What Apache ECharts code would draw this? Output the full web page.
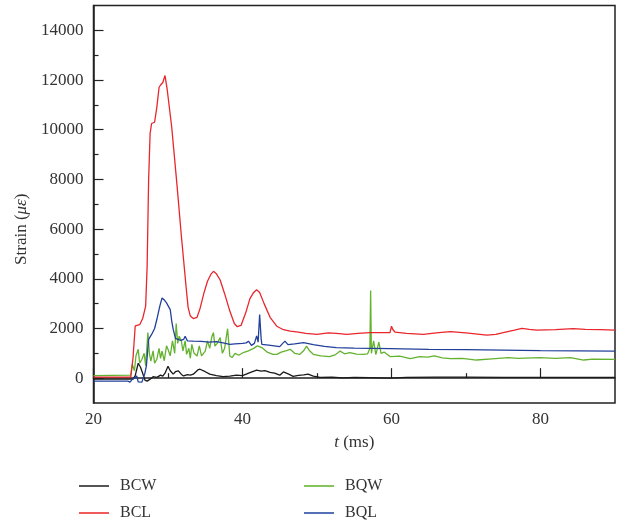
<!DOCTYPE html>
<html>
<head>
<meta charset="utf-8">
<script src="https://cdn.jsdelivr.net/npm/echarts@6/dist/echarts.min.js"></script>
<style>
html, body { margin: 0; padding: 0; background: #fff; }
#main { width: 617px; height: 521px; }
</style>
</head>
<body>
<div id="main"></div>
<script>
// strain records, [t (ms), strain (microstrain)]
var bcw = [[20,-40],[25.3,-40],[25.6,100],[26.0,600],[26.3,450],[26.6,200],[26.9,-80],[27.2,-120],[27.6,-40],[28.0,60],[28.5,30],[29.0,120],[29.3,80],[29.6,200],[30.0,480],[30.3,300],[30.7,160],[31.0,260],[31.4,290],[31.8,150],[32.1,90],[32.6,140],[33.0,120],[33.4,160],[34.0,330],[34.3,360],[35.0,260],[35.6,160],[36.5,100],[37.4,60],[38.3,80],[39.2,120],[40.0,100],[41.0,220],[41.9,320],[42.5,280],[43.0,300],[43.7,230],[44.3,200],[45.0,120],[45.5,250],[46.2,160],[46.8,70],[47.5,110],[48.2,130],[48.8,160],[49.5,80],[50.4,30],[52,40],[53.5,10],[55,30],[57,20],[59.8,0],[62,30],[66,40],[70,40],[75,30],[80,30],[85,30],[90,30]];

var bcl = [[20,40],[25.0,40],[25.3,800],[25.6,2100],[26.2,2150],[26.6,2400],[27.0,2900],[27.2,4500],[27.4,8000],[27.6,9850],[27.8,10250],[28.2,10300],[28.5,10900],[28.8,11700],[29.0,11800],[29.3,11900],[29.6,12180],[29.9,11600],[30.5,10100],[31.2,7800],[31.8,5700],[32.5,3450],[32.7,2850],[33.0,2500],[33.4,2400],[33.9,2450],[34.3,2800],[34.8,3400],[35.3,3900],[35.8,4200],[36.1,4300],[36.5,4200],[37.0,3950],[37.6,3400],[38.3,2700],[38.9,2200],[39.3,2070],[39.8,2120],[40.4,2600],[41.0,3200],[41.5,3450],[41.9,3560],[42.3,3450],[42.9,3000],[43.7,2450],[44.6,2090],[45.5,1950],[46.4,1890],[47.5,1850],[48.5,1800],[50,1760],[51.5,1820],[52.6,1800],[54,1760],[55.5,1800],[57.1,1830],[59.8,1830],[60.0,2090],[60.2,1950],[60.5,1850],[62,1800],[64.3,1760],[66,1820],[67.9,1870],[70,1820],[72.8,1730],[74,1760],[75,1830],[76.5,1930],[77.5,2000],[78.5,1960],[79.5,1930],[82,1950],[84.4,1990],[86,1960],[88,1950],[90,1930]];

var bqw = [[20,100],[25.0,120],[25.2,560],[25.5,300],[25.7,900],[26.0,1160],[26.2,600],[26.5,760],[26.8,1000],[27.0,500],[27.3,1840],[27.5,1000],[27.7,690],[28.0,1100],[28.2,600],[28.5,760],[28.8,1200],[29.0,800],[29.2,1090],[29.5,700],[29.8,1300],[30.0,1160],[30.3,900],[30.6,1500],[30.9,1000],[31.1,2200],[31.3,1400],[31.5,1690],[31.8,1490],[32.0,1100],[32.3,1500],[32.5,960],[32.8,1200],[33.0,800],[33.2,1360],[33.5,1000],[33.9,890],[34.2,1300],[34.5,900],[35.0,1090],[35.3,1500],[35.6,1200],[35.9,1690],[36.1,1830],[36.3,1290],[36.6,1400],[37.0,1630],[37.3,1000],[37.6,1200],[38.0,1990],[38.3,890],[38.6,830],[39.0,1000],[39.5,920],[40.1,1030],[40.8,1100],[41.5,1200],[42.0,1300],[42.6,1230],[43.3,1050],[44.1,960],[44.6,960],[45.2,1050],[45.8,1100],[46.4,1160],[47.0,1000],[47.7,960],[48.2,1100],[48.6,1290],[49.0,1100],[49.5,960],[50.5,900],[51.7,870],[52.5,950],[53.1,1090],[53.7,980],[54.4,1030],[55.3,970],[56.2,960],[56.8,980],[57.1,1200],[57.2,3530],[57.3,1000],[57.6,1500],[57.9,950],[58.3,1450],[58.6,1000],[59.0,1050],[59.8,870],[61.1,890],[62.5,790],[63.8,870],[64.8,850],[65.8,900],[66.8,820],[67.9,790],[69.5,800],[71.4,730],[73.5,780],[75.7,830],[77,800],[79.9,830],[82,800],[84,830],[85.8,730],[87,770],[90,760]];

var bql = [[20,-120],[24.6,-120],[24.9,-160],[25.2,-50],[25.8,90],[26.0,-150],[26.5,-160],[26.9,200],[27.1,490],[27.4,1560],[27.8,1760],[28.2,2000],[28.5,2360],[28.9,2900],[29.2,3230],[29.5,3150],[29.8,3030],[30.3,2760],[30.5,2300],[30.7,1960],[31.0,1600],[31.2,1560],[31.7,1520],[32.1,1560],[32.3,1690],[32.6,1500],[33.4,1490],[34.5,1480],[35.5,1450],[36.5,1470],[37.4,1420],[38.3,1360],[39.0,1380],[40.0,1400],[40.5,1420],[40.8,1490],[41.2,1320],[41.6,1400],[41.9,1700],[42.1,1450],[42.3,2560],[42.5,1600],[42.6,1360],[43.5,1330],[45.0,1270],[45.4,1400],[45.7,1490],[46.1,1350],[47,1380],[48.2,1430],[49.5,1350],[51,1280],[52.6,1230],[55,1210],[57.5,1200],[59.8,1190],[65,1160],[70,1150],[75,1130],[80,1110],[85,1100],[90,1090]];

var xMajor = [20, 40, 60, 80];
var xMinor = [30, 50, 70];
var yMajor = [0, 2000, 4000, 6000, 8000, 10000, 12000, 14000];
var yMinor = [1000, 3000, 5000, 7000, 9000, 11000, 13000];

var FONT = '"Liberation Serif", "DejaVu Serif", serif';
var AXIS = '#222';

chart = echarts.init(document.getElementById('main'));

function line(name, data, color){
    return {
        name: name,
        type: 'line',
        data: data,
        symbol: 'none',
        showSymbol: false,
        animation: false,
        lineStyle: {width: 1.3, color: color},
        itemStyle: {color: color}
    };
}

// one legend per entry, so the 2x2 block sits exactly where it should
function legendItem(name, color, left, top){
    return {
        data: [{name: name, itemStyle: {color: color}}],
        left: left, top: top, padding: 0,
        icon: 'rect', itemWidth: 30, itemHeight: 2,
        textStyle: {fontFamily: FONT, fontSize: 16, lineHeight: 14, color: '#333', padding: [0, 0, 0, 6]}
    };
}

option = {
    animation: false,
    grid: {
        left: 93.5, right: 2, top: 5.5, bottom: 118,
        show: true, borderColor: AXIS, borderWidth: 1.5, backgroundColor: 'transparent'
    },
    legend: [
        legendItem('BCW', '#555', 79, 478),
        legendItem('BCL', '#ef5a5a', 79, 505),
        legendItem('BQW', '#86c45c', 304, 478),
        legendItem('BQL', '#5670b6', 304, 505)
    ],
    xAxis: [
        {
            type: 'value', min: 20, max: 90,
            name: '{i|t} (ms)', nameLocation: 'middle', nameGap: 31,
            nameTextStyle: {fontFamily: FONT, fontSize: 17, color: '#333',
                rich: {i: {fontFamily: FONT, fontSize: 17, fontStyle: 'italic', color: '#333'}}},
            axisLine: {show: true, lineStyle: {color: AXIS, width: 1.5}},
            axisTick: {show: true, inside: true, length: 10, customValues: xMajor, lineStyle: {color: AXIS, width: 1.2}},
            axisLabel: {customValues: xMajor, margin: 8, fontFamily: FONT, fontSize: 17, color: '#333',
                formatter: function (v) { return String(v); }},
            splitLine: {show: false}
        },
        {
            type: 'value', min: 20, max: 90, position: 'bottom',
            axisLine: {show: false},
            axisTick: {show: true, inside: true, length: 5, customValues: xMinor, lineStyle: {color: AXIS, width: 1.2}},
            axisLabel: {show: false},
            splitLine: {show: false}
        }
    ],
    yAxis: [
        {
            type: 'value', min: -1000, max: 15000,
            name: 'Strain ({i|με})', nameLocation: 'middle', nameGap: 60,
            nameTextStyle: {fontFamily: FONT, fontSize: 17, color: '#333', padding: [0, 50, 0, 0],
                rich: {i: {fontFamily: FONT, fontSize: 17, fontStyle: 'italic', color: '#333'}}},
            axisLine: {show: true, lineStyle: {color: AXIS, width: 1.5}},
            axisTick: {show: true, inside: true, length: 10, customValues: yMajor, lineStyle: {color: AXIS, width: 1.2}},
            axisLabel: {customValues: yMajor, margin: 10, fontFamily: FONT, fontSize: 17, color: '#333',
                formatter: function (v) { return String(v); }},
            splitLine: {show: false}
        },
        {
            type: 'value', min: -1000, max: 15000, position: 'left', offset: 0,
            axisLine: {show: false},
            axisTick: {show: true, inside: true, length: 5, customValues: yMinor, lineStyle: {color: AXIS, width: 1.2}},
            axisLabel: {show: false},
            splitLine: {show: false}
        }
    ],
    series: [
        line('BCW', bcw, '#1a1a1a'),
        line('BQW', bqw, '#63b22f'),
        line('BQL', bql, '#22409a'),
        line('BCL', bcl, '#e8262c')
    ]
};
chart.setOption(option);
</script>
</body>
</html>
